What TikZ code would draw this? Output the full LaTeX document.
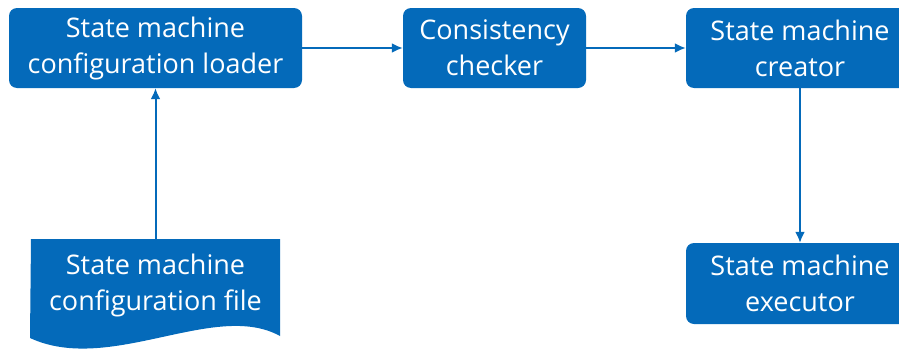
\documentclass[tikz,border=0pt]{standalone}
\usepackage{fontspec}
\setmainfont{Open Sans}
\usetikzlibrary{arrows.meta}
\definecolor{boxblue}{RGB}{4,106,186}
\begin{document}
\begin{tikzpicture}[x=1pt,y=-1pt,
  blk/.style={fill=boxblue, draw=none, rounded corners=8pt, text=white, align=center,
    font=\fontsize{27}{36}\selectfont, inner sep=0pt},
  conn/.style={draw=boxblue, line width=2pt, -{Latex[length=11pt,width=10pt]}}]
\useasboundingbox (0,0) rectangle (899,348);
\clip (0,0) rectangle (899,348);
\node[blk, minimum width=293pt, minimum height=80pt] (loader) at (155.5,48) {State machine\\configuration loader};
\node[blk, minimum width=183pt, minimum height=80pt] (checker) at (494.5,48) {Consistency\\checker};
\node[blk, minimum width=228pt, minimum height=80pt] (creator) at (800,48) {State machine\\creator};
\node[blk, minimum width=228pt, minimum height=81pt] (executor) at (800,283.5) {State machine\\executor};
\fill[boxblue] (31,239) -- (280,239) -- (280,336) .. controls (215,300) and (110,375) .. (30,338) -- cycle;
\node[text=white, align=center, font=\fontsize{27}{36}\selectfont, inner sep=0pt,
  minimum width=249pt, minimum height=92pt] (file) at (155.5,285) {State machine\\configuration file};
\draw[conn] (file.north) -- (loader.south);
\draw[conn] (loader.east) -- (checker.west);
\draw[conn] (checker.east) -- (creator.west);
\draw[conn] (creator.south) -- (executor.north);
\end{tikzpicture}
\end{document}
